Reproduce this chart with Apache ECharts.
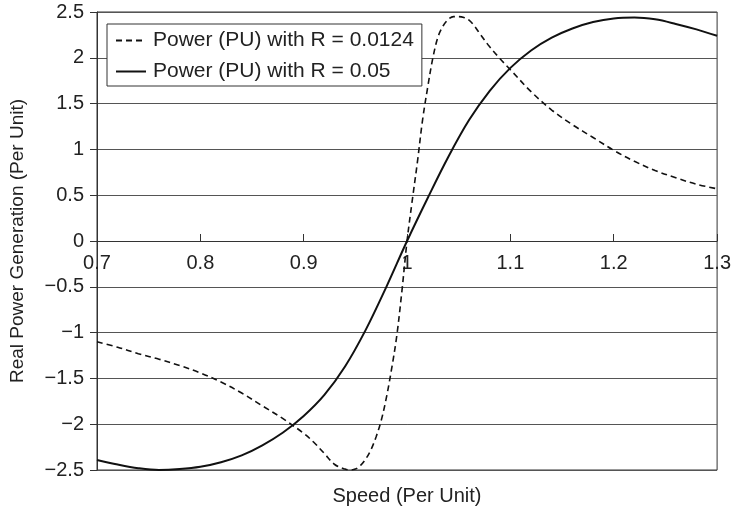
<!DOCTYPE html>
<html>
<head>
<meta charset="utf-8">
<script src="https://cdn.jsdelivr.net/npm/echarts@6/dist/echarts.min.js"></script>
<style>html,body{margin:0;padding:0;background:#fff}#c{width:734px;height:510px}</style>
</head>
<body>
<div id="c"></div>
<script>
// Speed (per unit) and power values
const dashedName = 'Power (PU) with R = 0.0124';
const solidName = 'Power (PU) with R = 0.05';
const dashedX = [0.70,0.72,0.74,0.76,0.78,0.80,0.82,0.84,0.86,0.88,0.90,0.91,0.92,0.93,0.94,0.945,0.95,0.955,0.96,0.965,0.97,0.975,0.98,0.985,0.99,0.995,1.00,1.005,1.01,1.015,1.02,1.025,1.03,1.035,1.04,1.045,1.05,1.055,1.06,1.065,1.07,1.08,1.09,1.10,1.12,1.14,1.16,1.18,1.20,1.22,1.24,1.26,1.28,1.30];
const dashedY = [-1.10,-1.16,-1.23,-1.29,-1.36,-1.44,-1.54,-1.66,-1.80,-1.94,-2.10,-2.20,-2.32,-2.44,-2.49,-2.50,-2.49,-2.45,-2.38,-2.28,-2.14,-1.96,-1.71,-1.40,-1.04,-0.55,0.00,0.44,0.86,1.32,1.68,2.00,2.23,2.35,2.42,2.45,2.45,2.44,2.41,2.35,2.27,2.12,1.99,1.87,1.63,1.43,1.27,1.13,0.99,0.87,0.77,0.69,0.62,0.57];
const solidX = [0.70,0.72,0.74,0.76,0.78,0.80,0.82,0.84,0.86,0.88,0.90,0.92,0.94,0.96,0.98,1.00,1.02,1.04,1.06,1.08,1.10,1.12,1.14,1.16,1.18,1.20,1.22,1.24,1.26,1.28,1.30];
const solidY = [-2.39,-2.44,-2.48,-2.50,-2.49,-2.465,-2.415,-2.34,-2.23,-2.09,-1.91,-1.68,-1.37,-0.97,-0.50,0.00,0.47,0.92,1.32,1.64,1.89,2.08,2.22,2.32,2.39,2.43,2.44,2.42,2.37,2.31,2.24];
const xTicks = {min:0.7, max:1.3, step:0.1};
const yTicks = {min:-2.5, max:2.5, step:0.5};
const xName = 'Speed (Per Unit)';
const yName = 'Real Power Generation (Per Unit)';

const font = '"Liberation Sans", Arial, sans-serif';
const pair = (xs, ys) => xs.map((x,i)=>[x, ys[i]]);
const fmt = v => String(Math.round(v*10)/10).replace('-', '\u2212');

const chart = echarts.init(document.getElementById('c'), null, {renderer:'canvas'});
chart.setOption({
  animation:false,
  backgroundColor:'#fff',
  textStyle:{fontFamily:font},
  grid:{left:97, right:16, top:12, bottom:40, show:true, borderColor:'#333', borderWidth:1, backgroundColor:'transparent'},
  legend:{
    orient:'vertical', left:107, top:24,
    data:[dashedName, solidName],
    itemWidth:30, itemHeight:4, itemGap:10,
    padding:[6,8,4,8],
    borderColor:'#333', borderWidth:1, backgroundColor:'#fff',
    itemStyle:{color:'transparent', borderColor:'transparent', borderWidth:0, opacity:0},
    textStyle:{fontFamily:font, fontSize:21, color:'#222', padding:[0,0,0,2]}
  },
  xAxis:{
    type:'value', min:xTicks.min, max:xTicks.max, interval:xTicks.step,
    position:'bottom', offset:-229,
    axisLine:{onZero:false, lineStyle:{color:'#333', width:1}},
    axisTick:{show:true, inside:true, length:7, lineStyle:{color:'#333'}},
    axisLabel:{margin:12, fontSize:20, color:'#222', fontFamily:font, formatter:fmt},
    splitLine:{show:false}
  },
  yAxis:{
    type:'value', min:yTicks.min, max:yTicks.max, interval:yTicks.step,
    name:yName, nameLocation:'middle', nameGap:70, nameRotate:90,
    nameTextStyle:{fontSize:19, color:'#222', fontFamily:font},
    axisLine:{show:true, lineStyle:{color:'#333', width:1}},
    axisTick:{show:true, length:7, lineStyle:{color:'#333'}},
    axisLabel:{margin:13, fontSize:20, color:'#222', fontFamily:font, formatter:fmt},
    splitLine:{show:true, lineStyle:{color:'#555', width:1}}
  },
  graphic:[{type:'text', x:407, y:496, style:{text:xName, font:'20px '+font, fill:'#222', textAlign:'center', textVerticalAlign:'middle'}}],
  series:[
    {name:dashedName, type:'line', data:pair(dashedX,dashedY), showSymbol:false, symbol:'none', smooth:0.35,
     lineStyle:{color:'#111', width:1.6, type:[6,4]}, itemStyle:{color:'#111'}},
    {name:solidName, type:'line', data:pair(solidX,solidY), showSymbol:false, symbol:'none', smooth:0.35,
     lineStyle:{color:'#111', width:2, type:'solid'}, itemStyle:{color:'#111'}}
  ]
});
</script>
</body>
</html>
